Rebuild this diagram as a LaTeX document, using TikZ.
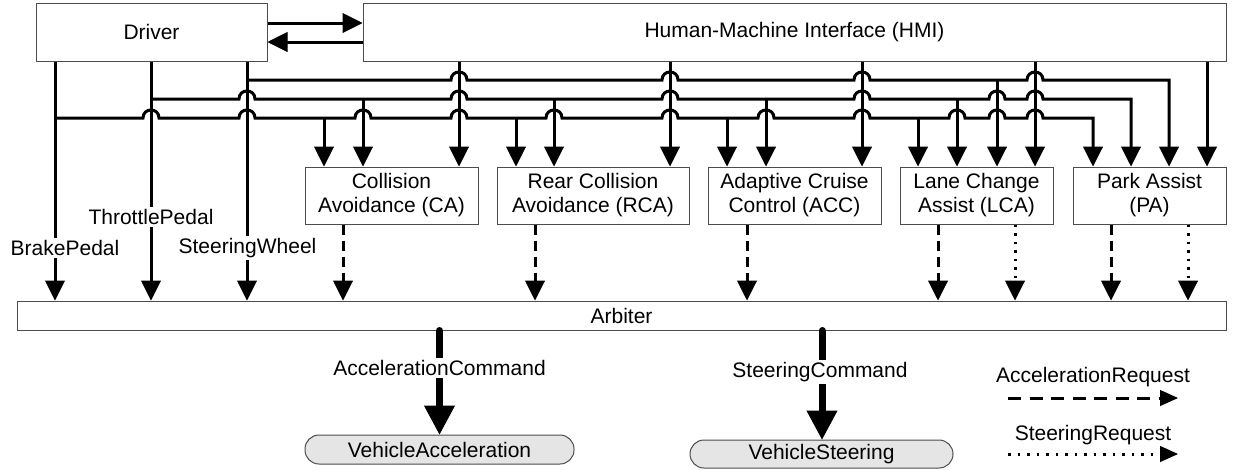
\documentclass[tikz,border=0pt]{standalone}
\usepackage{fontspec}
\setmainfont{Liberation Sans}
\usetikzlibrary{arrows.meta}
\begin{document}
\begin{tikzpicture}[x=1pt,y=-1pt,
  font=\fontsize{21}{24}\selectfont,
  blk/.style={draw=black!70, line width=1pt, inner sep=0pt, align=center},
  arrtip/.style={-{Triangle[length=20pt,width=20pt,line width=1pt]}},
  arr/.style={line width=3pt, arrtip},
  dsharr/.style={line width=3pt, dash pattern=on 10pt off 6pt, arrtip},
  dotarr/.style={line width=3pt, dash pattern=on 2.5pt off 6pt, arrtip},
  lbl/.style={fill=white, inner sep=2pt},
  cmd/.style={line width=7pt, line cap=round, -{Triangle[length=29pt,width=31pt,line width=1pt]}},
  veh/.style={blk, fill=black!10, rounded corners=14pt},
  legtip/.style={-{Triangle[length=18pt,width=16pt,line width=1pt]}},
]
\useasboundingbox (0,0) rectangle (1233,469);

% top boxes
\node[blk, minimum width=231pt, minimum height=58pt] (driver) at (151.5,32) {Driver};
\node[blk, minimum width=863pt, minimum height=58pt] (hmi) at (794.5,32) {Human-Machine Interface (HMI)};

% modules
\node[blk, minimum width=173pt, minimum height=57pt] (ca)  at (391.5,195.5) {Collision\\Avoidance (CA)};
\node[blk, minimum width=192pt, minimum height=57pt] (rca) at (593,195.5) {Rear Collision\\Avoidance (RCA)};
\node[blk, minimum width=173pt, minimum height=57pt] (acc) at (794.5,195.5) {Adaptive Cruise\\Control (ACC)};
\node[blk, minimum width=153pt, minimum height=57pt] (lca) at (976.5,195.5) {Lane Change\\Assist (LCA)};
\node[blk, minimum width=153pt, minimum height=57pt] (pa)  at (1149.5,195.5) {Park Assist\\(PA)};

% arbiter
\node[blk, minimum width=1209pt, minimum height=29pt] (arbiter) at (621.5,315.5) {Arbiter};

% vehicle outputs
\node[veh, minimum width=269pt, minimum height=29pt] (va) at (439.5,449.5) {VehicleAcceleration};
\node[veh, minimum width=263pt, minimum height=28pt] (vs) at (821.5,454) {VehicleSteering};

% driver <-> HMI
\draw[arr] (driver.east |- 0,23) -- (hmi.west |- 0,23);
\draw[arr] (hmi.west |- 0,42) -- (driver.east |- 0,42);

% driver verticals to arbiter
\foreach \x in {55,151,247}
  \draw[arr] (\x,0 |- driver.south) -- (\x,0 |- arbiter.north);

% HMI drops
\foreach \x/\m in {459/ca,670/rca,862/acc,1035/lca,1207/pa}
  \draw[arr] (\x,0 |- hmi.south) -- (\x,0 |- \m.north);

% buses
\coordinate (jS) at (247,80);
\coordinate (jT) at (151,99);
\coordinate (jB) at (55,118);
\draw[arr] (jS) \foreach \j in {459,670,862,1035}{ -- (\j-8,80) .. controls (\j-8,69.3) and (\j+8,69.3) .. (\j+8,80)} -- (1169,80) -- (1169,0 |- pa.north);
\draw[arr] (jT) \foreach \j in {247,459,670,862,997,1035}{ -- (\j-8,99) .. controls (\j-8,88.3) and (\j+8,88.3) .. (\j+8,99)} -- (1131,99) -- (1131,0 |- pa.north);
\draw[arr] (jB) \foreach \j in {151,247,363,459,554,670,766,862,957,997,1035}{ -- (\j-8,118) .. controls (\j-8,107.3) and (\j+8,107.3) .. (\j+8,118)} -- (1093,118) -- (1093,0 |- pa.north);

% drops from buses
\foreach \x/\y/\m in {324/118/ca,516/118/rca,727/118/acc,918/118/lca,363/99/ca,554/99/rca,766/99/acc,957/99/lca,997/80/lca}
  \draw[arr] (\x,\y) -- (\x,0 |- \m.north);

% module outputs
\foreach \x/\m in {343/ca,535/rca,747/acc,938/lca,1111/pa}
  \draw[dsharr] (\x,0 |- \m.south) -- (\x,0 |- arbiter.north);
\foreach \x/\m in {1015/lca,1188/pa}
  \draw[dotarr] (\x,0 |- \m.south) -- (\x,0 |- arbiter.north);

% driver labels
\node[lbl] (lbB) at (65,248) {BrakePedal};
\node[lbl] (lbT) at (151,217) {ThrottlePedal};
\node[lbl] (lbS) at (247.5,248) {SteeringWheel};

% commands
\draw[cmd] (439.5,0 |- arbiter.south) -- (439.5,0 |- va.north);
\draw[cmd] (822,0 |- arbiter.south) -- (822,0 |- vs.north);
\node[lbl] (lbAC) at (439.5,368) {AccelerationCommand};
\node[lbl] (lbSC) at (820,372) {SteeringCommand};

% legend
\node (lgA) at (1093,377) {AccelerationRequest};
\coordinate (lgA1) at (1008,398);
\coordinate (lgA2) at (1178,398);
\draw[line width=3pt, dash pattern=on 13pt off 8.5pt, legtip] (lgA1) -- (lgA2);
\node (lgS) at (1093,435) {SteeringRequest};
\coordinate (lgS1) at (1008,454);
\coordinate (lgS2) at (1178,454);
\draw[line width=3pt, dash pattern=on 2.5pt off 7pt, legtip] (lgS1) -- (lgS2);
\end{tikzpicture}
\end{document}
